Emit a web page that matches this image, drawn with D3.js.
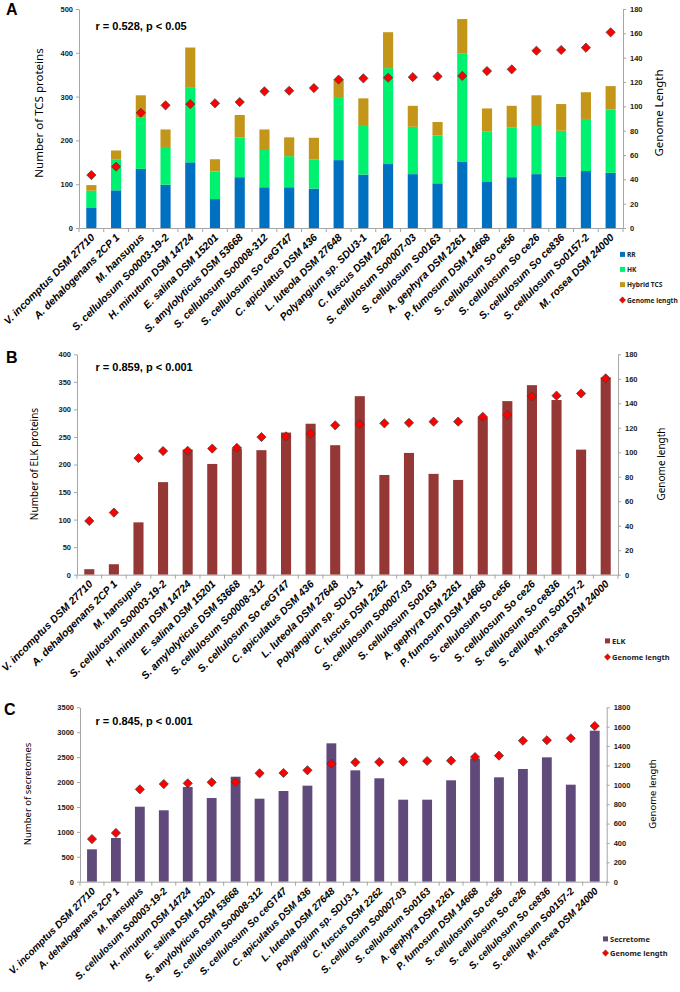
<!DOCTYPE html>
<html>
<head>
<meta charset="utf-8">
<script src="https://cdn.jsdelivr.net/npm/d3@7/dist/d3.min.js"></script>
<style>
  html, body { margin: 0; padding: 0; background: #fff; }
  svg { display: block; }
  text { font-family: "Liberation Sans", Arial, sans-serif; }
</style>
</head>
<body>
<svg id="chart" width="680" height="992"></svg>
<script>
// ---------- DATA ----------
const categories = [
  "V. incomptus DSM 27710", "A. dehalogenans 2CP 1", "M. hansupus",
  "S. cellulosum So0003-19-2", "H. minutum DSM 14724", "E. salina DSM 15201",
  "S. amylolyticus DSM 53668", "S. cellulosum So0008-312", "S. cellulosum So ceGT47",
  "C. apiculatus DSM 436", "L. luteola DSM 27648", "Polyangium sp. SDU3-1",
  "C. fuscus DSM 2262", "S. cellulosum So0007-03", "S. cellulosum So0163",
  "A. gephyra DSM 2261", "P. fumosum DSM 14668", "S. cellulosum So ce56",
  "S. cellulosum So ce26", "S. cellulosum So ce836", "S. cellulosum So0157-2",
  "M. rosea DSM 24000"
];

// Panel A: TCS proteins (stacked)
const rrValues     = [47, 86, 135, 99, 150, 66, 116, 93, 93, 90, 155, 122, 146, 123, 102, 152, 105, 116, 123, 117, 130, 126];
const hkValues     = [38, 71, 118, 86, 170, 63, 91, 85, 71, 66, 142, 111, 219, 108, 109, 247, 116, 113, 110, 105, 119, 145];
const hybridValues = [13, 20, 50, 40, 92, 28, 51, 47, 43, 50, 42, 63, 82, 48, 31, 78, 52, 50, 70, 61, 61, 53];
const genomeA      = [43.5, 50.4, 94.7, 100.8, 101.8, 102.5, 103.5, 112.3, 112.8, 115, 122, 123, 123.5, 124, 124.6, 125, 129, 130.4, 145.7, 146.3, 148.2, 160.8];

// Panel B: ELK proteins
const elkValues    = [10, 19, 95, 168, 227, 201, 229, 226, 258, 274, 235, 324, 181, 221, 183, 172, 286, 315, 344, 317, 227, 358];
const genomeB      = [43.9, 50.7, 95.2, 101, 101.2, 103, 103.6, 112.4, 113, 115, 122, 123, 123.6, 124, 125, 125, 129, 130.4, 145.6, 146.2, 148, 160.4];

// Panel C: secretomes
const secretomeValues = [650, 877, 1505, 1433, 1900, 1680, 2107, 1666, 1820, 1927, 2777, 2235, 2075, 1646, 1646, 2035, 2470, 2095, 2262, 2496, 1947, 3030];
const genomeC         = [440, 503, 953, 1008, 1015, 1026, 1029, 1119, 1122, 1150, 1218, 1232, 1235, 1239, 1246, 1249, 1287, 1301, 1455, 1460, 1480, 1607];

// Tick values
const ticksA_left  = [0, 100, 200, 300, 400, 500];
const ticksA_right = [0, 20, 40, 60, 80, 100, 120, 140, 160, 180];
const ticksB_left  = [0, 50, 100, 150, 200, 250, 300, 350, 400];
const ticksB_right = [0, 20, 40, 60, 80, 100, 120, 140, 160, 180];
const ticksC_left  = [0, 500, 1000, 1500, 2000, 2500, 3000, 3500];
const ticksC_right = [0, 200, 400, 600, 800, 1000, 1200, 1400, 1600, 1800];

// ---------- STYLE ----------
const COL = {
  rr: "#0070C0", hk: "#00F070", hybrid: "#C3961A",
  elk: "#953735", sec: "#604A7B",
  diamond: "#FF0000", diamondStroke: "#3a3a3a",
  axis: "#a6a6a6", text: "#1a1a1a"
};

const svg = d3.select("#chart");
const fmt = d3.format("d");

function diamondPath(cx, cy, r) {
  return `M${cx},${cy - r}L${cx + r},${cy}L${cx},${cy + r}L${cx - r},${cy}Z`;
}

function drawPanel(cfg) {
  const g = svg.append("g");
  const x = d3.scaleBand().domain(categories).range([cfg.x0, cfg.x1]).padding(0);
  const yL = d3.scaleLinear().domain(cfg.leftDomain).range([cfg.yBottom, cfg.yTop]);
  const yR = d3.scaleLinear().domain(cfg.rightDomain).range([cfg.yBottom, cfg.yTop]);
  const bw = x.step() * 0.41;

  // Bars
  cfg.series.forEach((s, si) => {
    g.append("g").selectAll("rect").data(categories).join("rect")
      .attr("x", d => x(d) + (x.step() - bw) / 2)
      .attr("width", bw)
      .attr("y", (d, i) => {
        const base = cfg.series.slice(0, si).reduce((a, ss) => a + ss.values[i], 0);
        return yL(base + s.values[i]);
      })
      .attr("height", (d, i) => {
        const base = cfg.series.slice(0, si).reduce((a, ss) => a + ss.values[i], 0);
        return yL(base) - yL(base + s.values[i]);
      })
      .attr("fill", s.color);
  });

  // Left axis
  const axL = g.append("g").attr("transform", `translate(${cfg.x0},0)`)
    .call(d3.axisLeft(yL).tickValues(cfg.leftTicks).tickFormat(fmt).tickSize(3).tickSizeOuter(0).tickPadding(3));
  // Right axis
  const axR = g.append("g").attr("transform", `translate(${cfg.x1},0)`)
    .call(d3.axisRight(yR).tickValues(cfg.rightTicks).tickFormat(fmt).tickSize(3).tickSizeOuter(0).tickPadding(4));
  [axL, axR].forEach(ax => {
    ax.select(".domain").attr("stroke", COL.axis);
    ax.selectAll(".tick line").attr("stroke", COL.axis);
    ax.selectAll(".tick text").attr("fill", COL.text)
      .style("font-size", "7.5px").style("font-weight", "bold")
      .style("font-family", "'Liberation Sans', Arial, sans-serif");
  });

  // Bottom axis
  const axB = g.append("g").attr("transform", `translate(0,${cfg.yBottom})`)
    .call(d3.axisBottom(x).tickSize(0).tickFormat(""));
  axB.select(".domain").attr("stroke", COL.axis);
  const bounds = categories.map(c => x(c)).concat([cfg.x1]);
  g.append("g").selectAll("line").data(bounds).join("line")
    .attr("x1", d => d).attr("x2", d => d)
    .attr("y1", cfg.yBottom).attr("y2", cfg.yBottom + 4)
    .attr("stroke", COL.axis);

  // Category labels
  g.append("g").selectAll("text").data(categories).join("text")
    .attr("transform", d => `translate(${x(d) + x.step() / 2 + cfg.lblDx},${cfg.yBottom + cfg.lblDy}) rotate(-45)`)
    .attr("text-anchor", "end")
    .style("font-size", cfg.lblSize + "px")
    .style("font-weight", "bold")
    .style("font-style", "italic")
    .attr("fill", "#000")
    .text(d => d);

  // Diamonds
  g.append("g").selectAll("path").data(categories).join("path")
    .attr("d", (d, i) => diamondPath(x(d) + x.step() / 2, yR(cfg.genome[i]), 4.6))
    .attr("fill", COL.diamond).attr("stroke", COL.diamondStroke).attr("stroke-width", 0.7);

  // Axis titles
  g.append("text")
    .attr("transform", `translate(${cfg.leftTitleX},${cfg.titleY}) rotate(-90)`)
    .attr("text-anchor", "middle")
    .style("font-family", "'Noto Sans', 'Open Sans', sans-serif")
    .style("font-size", cfg.titleSize + "px")
    .attr("fill", "#000")
    .text(cfg.leftTitle);
  g.append("text")
    .attr("transform", `translate(${cfg.rightTitleX},${cfg.titleY}) rotate(-90)`)
    .attr("text-anchor", "middle")
    .style("font-family", "'Noto Sans', 'Open Sans', sans-serif")
    .style("font-size", cfg.titleSize + "px")
    .attr("fill", "#000")
    .text(cfg.rightTitle);

  // Panel letter
  g.append("text").attr("x", cfg.letterX).attr("y", cfg.letterY)
    .style("font-size", "16px").style("font-weight", "bold").attr("fill", "#000")
    .text(cfg.letter);

  // Correlation text
  g.append("text").attr("x", 95.5).attr("y", cfg.rY)
    .style("font-size", "11px").style("font-weight", "bold").attr("fill", "#000")
    .text(cfg.rText);

  // Legend
  const lg = g.append("g");
  cfg.legend.forEach((item, i) => {
    const ly = cfg.legendY[i];
    if (item.type === "bar") {
      lg.append("rect").attr("x", cfg.legendX).attr("y", ly - 2.6).attr("width", 5).attr("height", 5).attr("fill", item.color);
    } else {
      lg.append("path").attr("d", diamondPath(cfg.legendX + 2.5, ly, 3.2))
        .attr("fill", COL.diamond).attr("stroke", COL.diamondStroke).attr("stroke-width", 0.4);
    }
    lg.append("text").attr("x", cfg.legendX + 7).attr("y", ly + 2.6)
      .style("font-family", "'Noto Sans', 'Open Sans', sans-serif")
      .style("font-size", cfg.legendSize + "px").style("font-weight", "bold").attr("fill", "#222")
      .text(item.label);
  });
}

drawPanel({
  letter: "A", letterX: 6, letterY: 15,
  rText: "r = 0.528, p < 0.05", rY: 30,
  x0: 79, x1: 623, yTop: 9, yBottom: 228,
  leftDomain: [0, 500], rightDomain: [0, 180],
  leftTicks: ticksA_left, rightTicks: ticksA_right,
  series: [
    { values: rrValues, color: COL.rr },
    { values: hkValues, color: COL.hk },
    { values: hybridValues, color: COL.hybrid }
  ],
  genome: genomeA,
  lblDx: 4, lblDy: 10, lblSize: 10.5,
  leftTitle: "Number of TCS proteins", rightTitle: "Genome Length",
  leftTitleX: 43, rightTitleX: 663, titleY: 113, titleSize: 11.5,
  legendX: 620, legendY: [254.5, 269.5, 284.7, 300], legendSize: 6.6,
  legend: [
    { type: "bar", color: COL.rr, label: "RR" },
    { type: "bar", color: COL.hk, label: "HK" },
    { type: "bar", color: COL.hybrid, label: "Hybrid TCS" },
    { type: "diamond", label: "Genome length" }
  ]
});

drawPanel({
  letter: "B", letterX: 6, letterY: 363,
  rText: "r = 0.859, p < 0.001", rY: 370.5,
  x0: 77, x1: 618, yTop: 354.3, yBottom: 574.7,
  leftDomain: [0, 400], rightDomain: [0, 180],
  leftTicks: ticksB_left, rightTicks: ticksB_right,
  series: [{ values: elkValues, color: COL.elk }],
  genome: genomeB,
  lblDx: 4, lblDy: 10, lblSize: 10.5,
  leftTitle: "Number of ELK proteins", rightTitle: "Genome length",
  leftTitleX: 38, rightTitleX: 665, titleY: 464, titleSize: 10,
  legendX: 605, legendY: [641, 657], legendSize: 7.5,
  legend: [
    { type: "bar", color: COL.elk, label: "ELK" },
    { type: "diamond", label: "Genome length" }
  ]
});

drawPanel({
  letter: "C", letterX: 4, letterY: 715,
  rText: "r = 0.845, p < 0.001", rY: 725,
  x0: 80, x1: 606.7, yTop: 707.3, yBottom: 881.7,
  leftDomain: [0, 3500], rightDomain: [0, 1800],
  leftTicks: ticksC_left, rightTicks: ticksC_right,
  series: [{ values: secretomeValues, color: COL.sec }],
  genome: genomeC,
  lblDx: 4, lblDy: 10, lblSize: 10,
  leftTitle: "Number of secretomes", rightTitle: "Genome length",
  leftTitleX: 31, rightTitleX: 656, titleY: 794, titleSize: 9.5,
  legendX: 603, legendY: [939, 953], legendSize: 7.5,
  legend: [
    { type: "bar", color: COL.sec, label: "Secretome" },
    { type: "diamond", label: "Genome length" }
  ]
});
</script>
</body>
</html>
